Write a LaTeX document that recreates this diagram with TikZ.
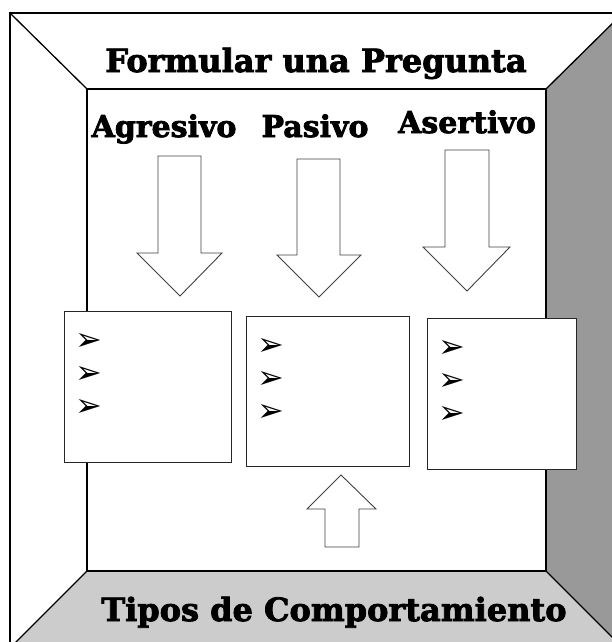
\documentclass[tikz,border=0pt]{standalone}
\usepackage{fontspec}
\newfontfamily\headfont{DejaVu Serif}[BoldFeatures={FakeBold=2.5}]
\newfontfamily\symfont{DejaVu Sans}

\tikzset{
  wall/.style={line width=1.3pt},
  blockarrow/.style={draw=black!75,line width=0.9pt,fill=white},
  listbox/.style={draw=black!85,line width=0.8pt,fill=white,inner sep=0pt,outer sep=0pt,anchor=north west},
  heading/.style={font=\headfont\bfseries\fontsize{32}{36}\selectfont,anchor=base,inner sep=0pt},
  label/.style={font=\headfont\bfseries\fontsize{30}{34}\selectfont,anchor=base,inner sep=0pt},
  bullet/.style={font=\symfont\fontsize{32}{36}\selectfont,inner sep=0pt}
}

\begin{document}
\begin{tikzpicture}[x=1pt,y=-1pt]
    \useasboundingbox (0,0) rectangle (612,642);
    \clip (0,0) rectangle (612,642);
    % walls of the room
    \fill[black!40] (546,89) -- (623,13) -- (623,648) -- (546,571) -- cycle;
    \fill[black!20] (87,571) -- (546,571) -- (623,648) -- (10,648) -- cycle;
    \draw[wall] (10,13) rectangle (623,648);
    \draw[wall] (87,89) rectangle (546,571);
    \draw[wall] (10,13) -- (87,89);
    \draw[wall] (623,13) -- (546,89);
    \draw[wall] (10,648) -- (87,571);
    \draw[wall] (623,648) -- (546,571);

    \node[heading] (pregunta) at (316,72) {Formular una Pregunta};
    \node[heading] (tipos) at (334,621) {Tipos de Comportamiento};

    \node[label] (agresivo) at (164,137) {Agresivo};
    \node[label] (pasivo) at (315,137) {Pasivo};
    \node[label] (asertivo) at (467,133) {Asertivo};

    % block arrows
    \draw[blockarrow] (158,156) -- (201,156) -- (201,253) -- (222,253) -- (180,296) -- (137,253) -- (158,253) -- cycle;
    \draw[blockarrow] (297,159) -- (340,159) -- (340,255) -- (361,255) -- (319,297) -- (277,255) -- (297,255) -- cycle;
    \draw[blockarrow] (445,150) -- (489,150) -- (489,247) -- (510,247) -- (467,291) -- (423,247) -- (445,247) -- cycle;
    \draw[blockarrow] (325,547) -- (359,547) -- (359,509) -- (376,509) -- (341,475) -- (307,509) -- (325,509) -- cycle;

    % lists
    \node[listbox,minimum width=167pt,minimum height=151pt] (listA) at (64,311) {};
    \node[listbox,minimum width=163pt,minimum height=150pt] (listB) at (246,316) {};
    \node[listbox,minimum width=149pt,minimum height=151pt] (listC) at (427,318) {};
    \foreach \l in {A,B,C}
        \foreach \i in {0,1,2}
            \node[bullet] (bullet\l\i) at ([shift={(25,{31+33*\i})}]list\l.north west) {➢};
\end{tikzpicture}
\end{document}
